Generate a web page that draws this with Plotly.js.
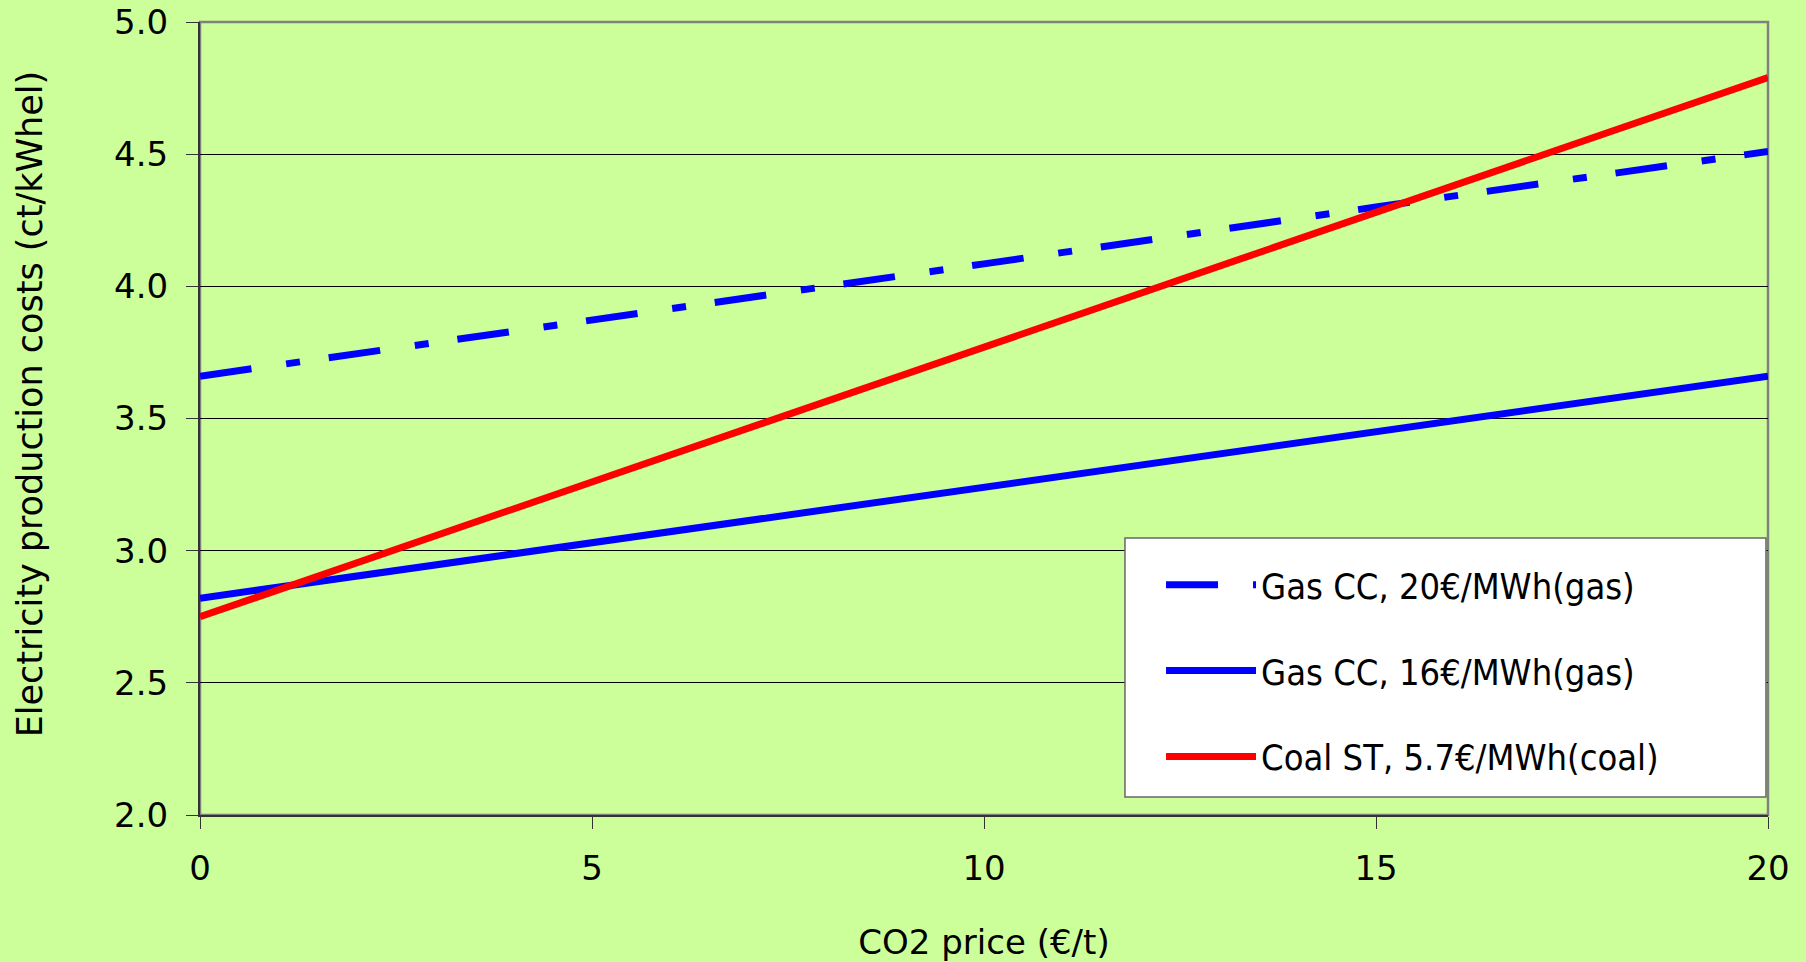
<!DOCTYPE html>
<html>
<head>
<meta charset="utf-8">
<script src="https://cdn.plot.ly/plotly-3.0.1.min.js"></script>
<style>
  html, body { margin: 0; padding: 0; background: #CCFF99; }
  #chart { width: 1806px; height: 962px; }
</style>
</head>
<body>
<div id="chart"></div>
<script>
// CO2 price (€/t)
const co2Price = [0, 5, 10, 15, 20];
// Electricity production costs (ct/kWhel)
const gasCC20 = [3.66, 3.87, 4.085, 4.30, 4.51];
const gasCC16 = [2.82, 3.03, 3.24, 3.45, 3.66];
const coalST = [2.75, 3.26, 3.77, 4.28, 4.79];
const seriesNames = ['Gas CC, 20€/MWh(gas)', 'Gas CC, 16€/MWh(gas)', 'Coal ST, 5.7€/MWh(coal)'];
const xTicks = [0, 5, 10, 15, 20];
const yTicks = [2.0, 2.5, 3.0, 3.5, 4.0, 4.5, 5.0];

const condensed = "'DejaVu Sans Condensed', 'Liberation Sans Narrow', 'DejaVu Sans', sans-serif";

const traces = [
  { x: co2Price, y: gasCC20, name: seriesNames[0], type: 'scatter', mode: 'lines',
    legendgroup: 'a', line: { color: '#0000FF', width: 7, dash: '52px,35px,14px,29px' } },
  { x: co2Price, y: gasCC16, name: seriesNames[1], type: 'scatter', mode: 'lines',
    legendgroup: 'b', line: { color: '#0000FF', width: 7 } },
  { x: co2Price, y: coalST, name: seriesNames[2], type: 'scatter', mode: 'lines',
    legendgroup: 'c', line: { color: '#FF0000', width: 7 } }
];

const layout = {
  width: 1806, height: 962,
  paper_bgcolor: '#CCFF99', plot_bgcolor: '#CCFF99',
  margin: { l: 200, r: 38, t: 22, b: 147 },
  font: { family: "'DejaVu Sans', sans-serif", color: '#000000' },
  xaxis: {
    range: [0, 20], tickvals: xTicks, ticktext: xTicks.map(String),
    showgrid: false, zeroline: false,
    showline: true, linecolor: '#333333', linewidth: 2,
    ticks: 'outside', ticklen: 12, tickwidth: 1, tickcolor: '#333333',
    tickfont: { size: 34 }, ticklabelstandoff: 10,
    title: { text: 'CO2 price (€/t)', font: { size: 34 }, standoff: 46 }
  },
  yaxis: {
    range: [2, 5], tickvals: yTicks, ticktext: yTicks.map(v => v.toFixed(1)),
    showgrid: true, gridcolor: '#000000', gridwidth: 1, zeroline: false,
    showline: true, linecolor: '#333333', linewidth: 2,
    ticks: 'outside', ticklen: 12, tickwidth: 1, tickcolor: '#333333',
    tickfont: { size: 34 }, ticklabelstandoff: 11
  },
  shapes: [
    { type: 'rect', xref: 'paper', yref: 'paper', x0: 0, x1: 1, y0: 0, y1: 1,
      line: { color: '#808080', width: 2.5 }, layer: 'below' },
    // legend box
    { type: 'rect', xref: 'paper', yref: 'paper', x0: 0.5899, x1: 0.9987, y0: 0.0227, y1: 0.3493,
      fillcolor: '#FFFFFF', line: { color: '#666666', width: 1.5 }, layer: 'above' }
  ],
  annotations: [
    { text: 'Electricity production costs (ct/kWhel)', xref: 'paper', yref: 'paper',
      x: -0.1084, y: 0.518, xanchor: 'center', yanchor: 'middle', textangle: -90, showarrow: false,
      font: { size: 35 } }
  ],
  showlegend: true,
  legend: {
    x: 0.6129, y: 0.328, xanchor: 'left', yanchor: 'top',
    bgcolor: 'rgba(0,0,0,0)', borderwidth: 0,
    font: { family: condensed, size: 36 },
    traceorder: 'grouped', tracegroupgap: 36, itemwidth: 90
  }
};

Plotly.newPlot('chart', traces, layout, { displayModeBar: false, staticPlot: true });
</script>
</body>
</html>
